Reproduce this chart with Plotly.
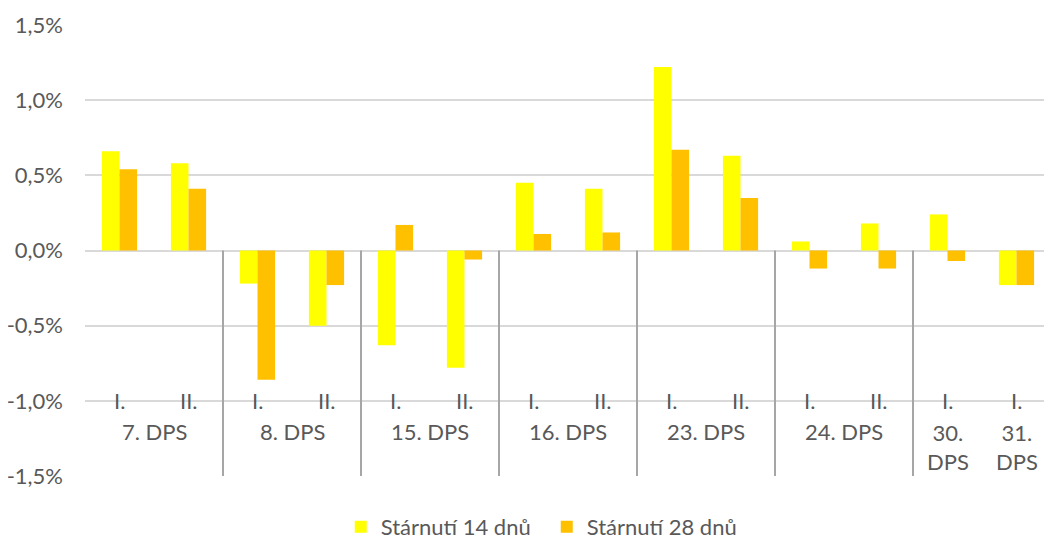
import plotly.graph_objects as go

groups = ["7. DPS", "7. DPS", "8. DPS", "8. DPS", "15. DPS", "15. DPS", "16. DPS", "16. DPS",
          "23. DPS", "23. DPS", "24. DPS", "24. DPS", "30. DPS", "31. DPS"]
subs = ["I.", "II.", "I.", "II.", "I.", "II.", "I.", "II.", "I.", "II.", "I.", "II.", "I.", "I."]
aging14 = [0.66, 0.58, -0.22, -0.50, -0.63, -0.78, 0.45, 0.41, 1.22, 0.63, 0.06, 0.18, 0.24, -0.23]
aging28 = [0.54, 0.41, -0.86, -0.23, 0.17, -0.06, 0.11, 0.12, 0.67, 0.35, -0.12, -0.12, -0.07, -0.23]
series_names = ["Stárnutí 14 dnů", "Stárnutí 28 dnů"]
colors = ["#FFFF00", "#FFC000"]
yticks = [-1.5, -1.0, -0.5, 0.0, 0.5, 1.0, 1.5]
ytick_text = ["-1,5%", "-1,0%", "-0,5%", "0,0%", "0,5%", "1,0%", "1,5%"]
# group label text (wrapped where Excel wrapped it)
group_label_text = {"30. DPS": "30.<br>DPS", "31. DPS": "31.<br>DPS"}
# groups after which a separator line is drawn
separator_after = ["7. DPS", "8. DPS", "15. DPS", "16. DPS", "23. DPS", "24. DPS"]

FONT = "Lato"
GRAY = "#595959"
FS = 22
idx = list(range(len(subs)))

fig = go.Figure()
for name, vals, col in zip(series_names, [aging14, aging28], colors):
    fig.add_trace(go.Bar(x=idx, y=vals, name=name, marker=dict(color=col, line=dict(width=0))))

annotations = []
for i, s in enumerate(subs):
    annotations.append(dict(x=i, y=-1.0, xref="x", yref="y", text=s, showarrow=False,
                            font=dict(family=FONT, size=FS, color=GRAY), yanchor="middle"))
seen = []
for g in groups:
    if g not in seen:
        seen.append(g)
shapes = []
for g in seen:
    members = [i for i, gg in enumerate(groups) if gg == g]
    center = sum(members) / len(members)
    txt = group_label_text.get(g, g)
    ypos = -1.31 if "<br>" in txt else -1.205
    annotations.append(dict(x=center, y=ypos, xref="x", yref="y", text=txt, showarrow=False,
                            font=dict(family=FONT, size=FS, color=GRAY), yanchor="middle"))
    if g in separator_after:
        xpos = max(members) + 0.5
        shapes.append(dict(type="line", x0=xpos, x1=xpos, y0=0, y1=-1.5, xref="x", yref="y",
                           line=dict(color="#A6A6A6", width=2), layer="above"))

# the page body has an 8px margin, so the figure is 8px smaller than the window
fig.update_layout(
    width=1044, height=531,
    margin=dict(l=77, r=1, t=17, b=63, autoexpand=False),
    paper_bgcolor="white", plot_bgcolor="white",
    barmode="group", bargap=0.49, bargroupgap=0,
    font=dict(family=FONT, size=FS, color=GRAY),
    showlegend=True,
    legend=dict(orientation="h", x=0.478, xanchor="center", y=-0.113, yanchor="middle",
                font=dict(family=FONT, size=FS, color=GRAY), traceorder="normal",
                entrywidth=161, entrywidthmode="pixels"),
    annotations=annotations,
    shapes=shapes,
)
fig.update_xaxes(range=[-0.5, len(subs) - 0.5], showticklabels=False, showgrid=False,
                 zeroline=False, showline=False, ticks="")
fig.update_yaxes(range=[-1.5, 1.5], tickvals=yticks, ticktext=ytick_text, showgrid=True,
                 gridcolor="#D9D9D9", gridwidth=2, zeroline=True, zerolinecolor="#D9D9D9",
                 zerolinewidth=2, showline=False, ticks="", ticklabelstandoff=21,
                 tickfont=dict(family=FONT, size=FS, color=GRAY))

fig.write_html("out.html")
